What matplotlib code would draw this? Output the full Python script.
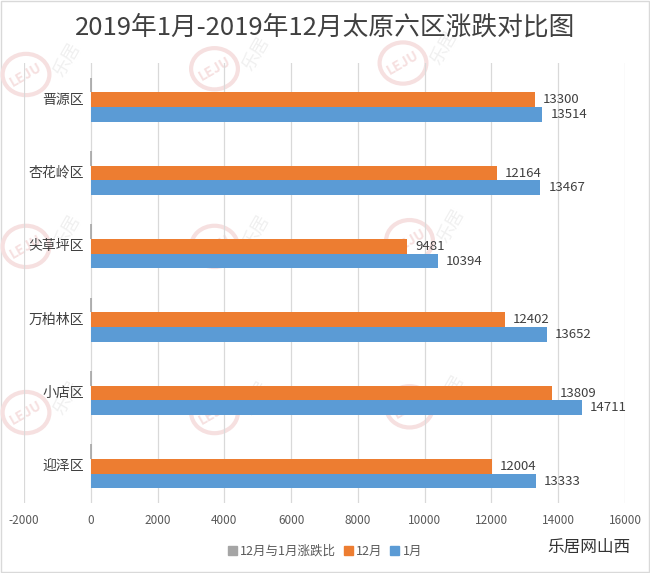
import numpy as np
import matplotlib
matplotlib.use("Agg")
import matplotlib.pyplot as plt
from matplotlib.patches import Circle, Patch, Rectangle

plt.rcParams['font.family'] = ['Noto Sans CJK SC', 'DejaVu Sans']

districts = ['迎泽区', '小店区', '万柏林区', '尖草坪区', '杏花岭区', '晋源区']
jan = [13333, 14711, 13652, 10394, 13467, 13514]
dec = [12004, 13809, 12402, 9481, 12164, 13300]
ratio = [-0.100, -0.061, -0.092, -0.088, -0.097, -0.016]
xticks = [-2000, 0, 2000, 4000, 6000, 8000, 10000, 12000, 14000, 16000]

c_gray = '#A5A5A5'
c_orange = '#ED7D31'
c_blue = '#5B9BD5'
txt = '#595959'


def watermark(fig, x, y):
    # faint LEJU logo tile
    r = 0.036
    fig.patches.append(Circle((x, y), r, transform=fig.transFigure,
                              fill=False, ec='#F6E0E0', lw=3, zorder=0))
    fig.text(x, y, 'LEJU', color='#F6E0E0', fontsize=10, fontweight='bold',
             ha='center', va='center', rotation=30, zorder=0)
    fig.text(x + 0.065, y + 0.025, '乐居', color='#F0F0F0', fontsize=13,
             ha='center', va='center', rotation=60, zorder=0)


def main():
    fig = plt.figure(figsize=(6.5, 5.73), dpi=100)
    fig.patches.append(Rectangle((0.002, 0.002), 0.996, 0.996,
                                 transform=fig.transFigure, fill=False,
                                 ec='#D9D9D9', lw=1, zorder=0))
    for wx, wy in [(0.04, 0.87), (0.33, 0.88), (0.62, 0.89),
                   (0.04, 0.57), (0.33, 0.57), (0.63, 0.58),
                   (0.04, 0.28), (0.33, 0.28), (0.63, 0.29)]:
        watermark(fig, wx, wy)

    ax = fig.add_axes([0.037, 0.122, 0.9245, 0.768])
    ax.set_zorder(1)
    ax.patch.set_alpha(0)
    y = np.arange(len(districts))
    h = 0.2

    b_blue = ax.barh(y - h, jan, height=h, color=c_blue, label='1月', zorder=3)
    b_orange = ax.barh(y, dec, height=h, color=c_orange, label='12月', zorder=3)
    ax.barh(y + h, ratio, height=h, color=c_gray, edgecolor=c_gray, lw=1.2,
            label='12月与1月涨跌比', zorder=3)

    ax.bar_label(b_blue, labels=[str(v) for v in jan], padding=6, fontsize=9.5,
                 color='#404040')
    ax.bar_label(b_orange, labels=[str(v) for v in dec], padding=6, fontsize=9.5,
                 color='#404040')

    ax.set_xlim(-2000, 16000)
    ax.set_ylim(-0.5, 5.5)
    ax.set_xticks(xticks)
    ax.set_xticklabels([str(v) for v in xticks], fontsize=8.5, color=txt)
    ax.set_yticks([])
    for yi, name in zip(y, districts):
        ax.text(-200, yi, name, ha='right', va='center', fontsize=10,
                color='#404040')
    ax.tick_params(length=0, pad=8)
    ax.grid(axis='x', color='#D9D9D9', lw=0.9, zorder=0)
    for s in ax.spines.values():
        s.set_visible(False)

    fig.text(0.5, 0.952, '2019年1月-2019年12月太原六区涨跌对比图',
             ha='center', va='center', fontsize=18.5, color='#404040')

    handles = [Patch(color=c_gray), Patch(color=c_orange), Patch(color=c_blue)]
    fig.legend(handles, ['12月与1月涨跌比', '12月', '1月'], loc='center',
               bbox_to_anchor=(0.5, 0.038), ncol=3, frameon=False, fontsize=9,
               handlelength=0.7, handleheight=0.7, handletextpad=0.3,
               columnspacing=0.6, labelcolor=txt)

    fig.text(0.97, 0.045, '乐居网山西', ha='right', va='center', fontsize=12,
             color='#333333')

    fig.savefig('out.png', dpi=100)


if __name__ == '__main__':
    main()
